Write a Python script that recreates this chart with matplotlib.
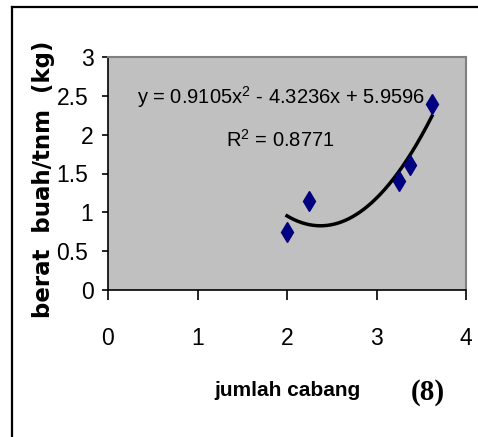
import numpy as np
import matplotlib
matplotlib.use("Agg")
import matplotlib.pyplot as plt
from matplotlib.lines import Line2D
import matplotlib.transforms as mtransforms

# Data
x_vals = [2.0, 2.25, 3.25, 3.375, 3.62]
y_vals = [0.75, 1.14, 1.40, 1.61, 2.40]
coef = [0.9105, -4.3236, 5.9596]
x_ticks = [0, 1, 2, 3, 4]
y_ticks = [0, 0.5, 1, 1.5, 2, 2.5, 3]
y_tick_labels = ["0", "0.5", "1", "1.5", "2", "2.5", "3"]
eq_text = "y = 0.9105x$^{2}$ - 4.3236x + 5.9596"
r2_text = "R$^{2}$ = 0.8771"
x_label = "jumlah cabang"
y_label = "berat  buah/tnm  (kg)"
panel = "(8)"

narrow = ["Liberation Sans Narrow", "Liberation Sans", "DejaVu Sans"]
plt.rcParams['mathtext.fontset'] = 'custom'
plt.rcParams['mathtext.rm'] = 'Liberation Sans'
plt.rcParams['mathtext.it'] = 'Liberation Sans'

W, H = 478, 437
fig = plt.figure(figsize=(W / 100, H / 100), dpi=100)
fig.patch.set_facecolor("white")

# outer frame (left and top)
fig.add_artist(Line2D([12 / W, 12 / W], [0, 1 - 7 / H], color="black", lw=1.6, transform=fig.transFigure))
fig.add_artist(Line2D([12 / W, 1], [1 - 7 / H, 1 - 7 / H], color="black", lw=1.6, transform=fig.transFigure))

ax = fig.add_axes([108 / W, 1 - 290 / H, (466 - 108) / W, (290 - 57) / H])
ax.set_facecolor("#C0C0C0")
ax.set_xlim(0, 4)
ax.set_ylim(0, 3)

for s in ["top", "right"]:
    ax.spines[s].set_color("#808080")
    ax.spines[s].set_linewidth(1.5)
for s in ["left", "bottom"]:
    ax.spines[s].set_color("black")
    ax.spines[s].set_linewidth(1.2)

ax.set_xticks(x_ticks)
ax.set_yticks(y_ticks)
ax.set_xticklabels([str(t) for t in x_ticks])
ax.set_yticklabels(y_tick_labels)
ax.tick_params(axis="x", direction="out", length=7.5, width=1.2, pad=19, labelsize=16.5)
ax.tick_params(axis="y", direction="out", length=4.5, width=1.2, pad=6, labelsize=16.5)
for lab in ax.get_xticklabels() + ax.get_yticklabels():
    lab.set_family(narrow)
# Excel-like alignment: decimal labels sit a little further left
for lab in ax.get_yticklabels():
    if "." in lab.get_text():
        lab.set_transform(lab.get_transform() + mtransforms.ScaledTranslation(-5 / 100, 0, fig.dpi_scale_trans))

# trendline
xs = np.linspace(min(x_vals), max(x_vals), 200)
ys = np.polyval(coef, xs)
ax.plot(xs, ys, color="black", lw=2.5, zorder=2)

ax.plot(x_vals, y_vals, linestyle="none", marker="d", markersize=10.5,
        color="#000080", markeredgecolor="#000080", zorder=3)

ax.text(281 / W, 1 - 97 / H, eq_text, transform=fig.transFigure, ha="center", va="center",
        fontsize=14.5, family=narrow)
ax.text(280 / W, 1 - 140 / H, r2_text, transform=fig.transFigure, ha="center", va="center",
        fontsize=14.5, family=narrow)

fig.text(287 / W, 1 - 391 / H, x_label, ha="center", va="center", fontsize=15,
         fontweight="bold", family=narrow)
fig.text(428 / W, 1 - 393 / H, panel, ha="center", va="center", fontsize=21,
         fontweight="bold", family=["Liberation Serif", "DejaVu Serif"])
fig.text(44 / W, 1 - 179 / H, y_label, ha="center", va="center", rotation=90,
         fontsize=16.5, fontweight="bold", family=["DejaVu Sans"])

fig.savefig("out.png", dpi=100)
